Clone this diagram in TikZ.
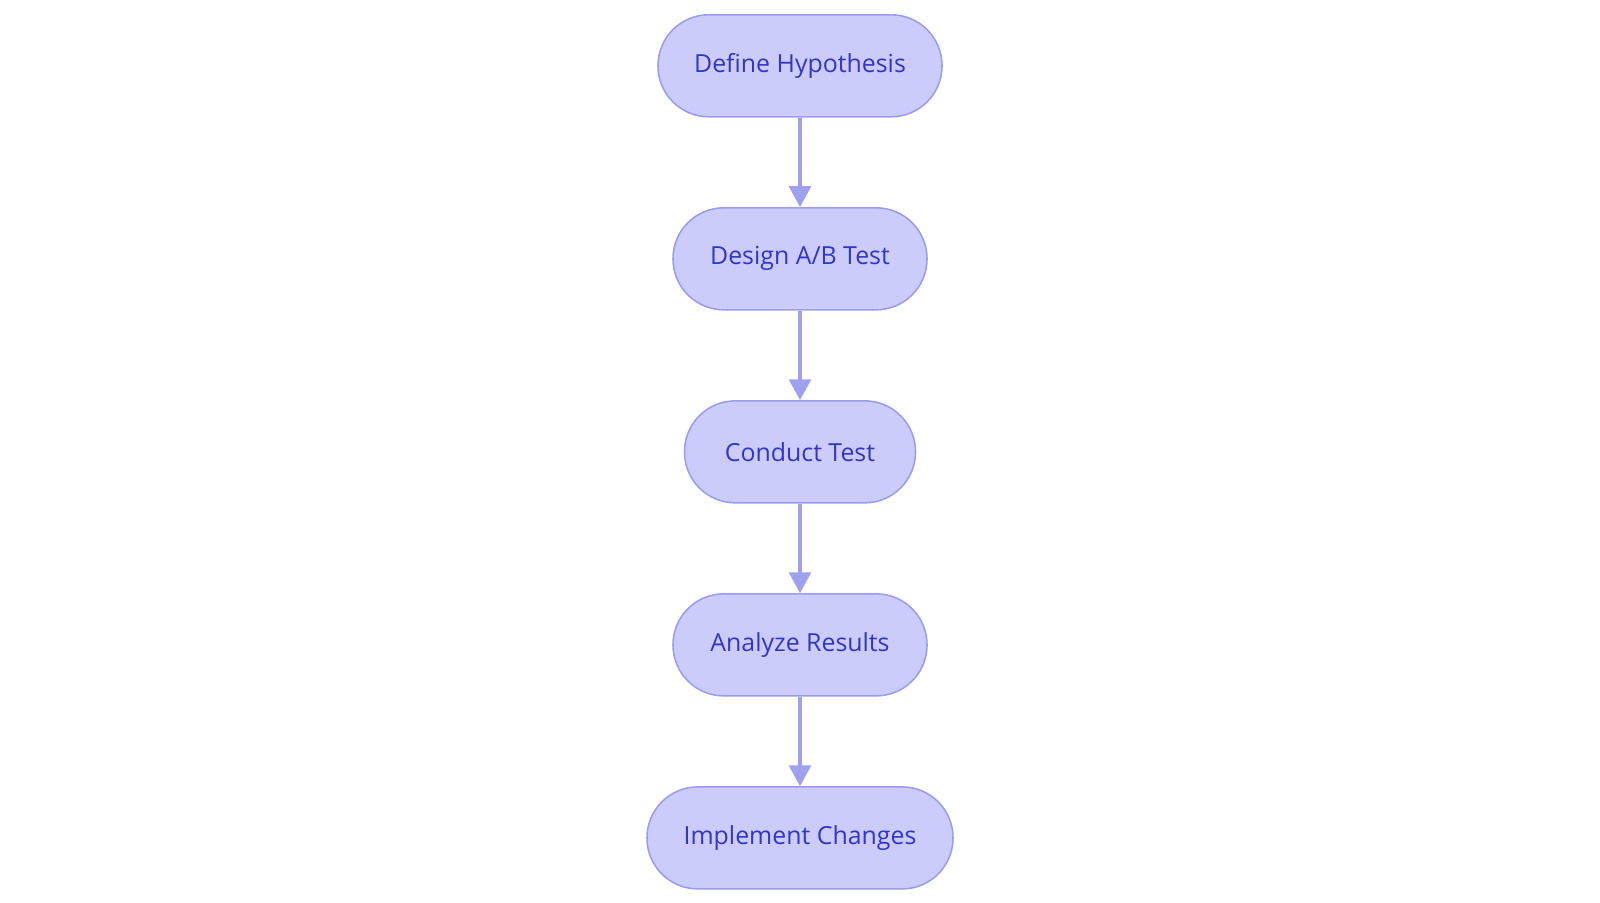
\documentclass[tikz,border=0pt]{standalone}
\usepackage{fontspec}
\setmainfont{Open Sans}
\definecolor{stepFill}{HTML}{CBCCFC}
\definecolor{stepBorder}{HTML}{9A9CF0}
\definecolor{stepText}{HTML}{3434C8}
\definecolor{flowArrow}{HTML}{9FA1F0}
\usetikzlibrary{arrows.meta, positioning}
\tikzset{
    step node/.style={rectangle, draw=stepBorder, fill=stepFill, line width=1.1pt, rounded corners=1.27cm, minimum height=2.55cm, align=center, text=stepText, font=\fontsize{17.7}{21}\selectfont},
    arrow style/.style={-{Triangle[length=0.52cm, width=0.55cm]}, line width=2.2pt, flowArrow},
}
\begin{document}
\begin{tikzpicture}[node distance=2.237cm]
    \useasboundingbox (0,0) rectangle (40,22.575);
    \node[step node, minimum width=7.1cm] (hypothesis) at (20,20.93) {Define Hypothesis};
    \node[step node, minimum width=6.35cm, below=of hypothesis] (design) {Design A/B Test};
    \node[step node, minimum width=5.775cm, below=of design] (conduct) {Conduct Test};
    \node[step node, minimum width=6.35cm, below=of conduct] (analyze) {Analyze Results};
    \node[step node, minimum width=7.65cm, below=of analyze] (implement) {Implement Changes};
    \draw[arrow style] (hypothesis) -- (design);
    \draw[arrow style] (design) -- (conduct);
    \draw[arrow style] (conduct) -- (analyze);
    \draw[arrow style] (analyze) -- (implement);
\end{tikzpicture}
\end{document}
